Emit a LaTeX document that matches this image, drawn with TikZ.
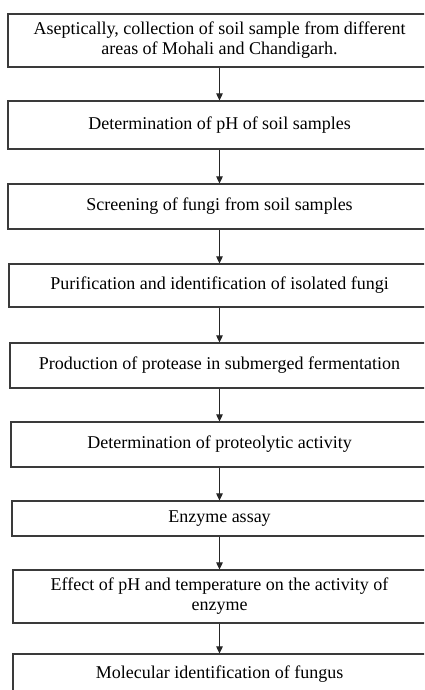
\documentclass[tikz,border=0pt]{standalone}
\usepackage{fontspec}
\setmainfont{Liberation Serif}
\usetikzlibrary{arrows.meta, positioning}
\definecolor{bordeGris}{HTML}{3a3a3a}

\begin{document}
\begin{tikzpicture}[x=1pt, y=-1pt,
  % Estilos
  paso/.style={
    rectangle, draw=bordeGris, line width=1.1pt,
    minimum width=#1, inner sep=2pt,
    align=center, font=\fontsize{18}{20}\selectfont
  },
  paso/.default=423pt,
  flecha/.style={
    -{Triangle[width=6.5pt, length=7pt]}, line width=0.9pt, draw=black!85
  }
]

% --- Marco ---
\fill[white] (0,0) rectangle (424,690);
\clip (0,0) rectangle (424,690);

% --- Pasos ---
\node[paso, minimum height=53pt] (coleccion) at (219.5, 40.5)
  {Aseptically, collection of soil sample from different\\areas of Mohali and Chandigarh.};
\node[paso, minimum height=48pt] (ph)        at (219.5, 125)   {Determination of pH of soil samples};
\node[paso, minimum height=45pt] (cribado)   at (219.5, 206.5) {Screening of fungi from soil samples};
\node[paso=421pt, minimum height=43pt] (purifica)  at (219.5, 285.5) {Purification and identification of isolated fungi};
\node[paso=419pt, minimum height=45pt] (produce)   at (219.5, 365.5) {Production of protease in submerged fermentation};
\node[paso=417pt, minimum height=45pt] (actividad) at (219.5, 444.5) {Determination of proteolytic activity};
\node[paso=415pt, minimum height=35pt] (ensayo)    at (219.5, 518.5) {Enzyme assay};
\node[paso=413pt, minimum height=53pt] (efecto)    at (219.5, 596.5)
  {Effect of pH and temperature on the activity of\\enzyme};
\node[paso=413pt, minimum height=40pt] (molecular) at (219.5, 674)   {Molecular identification of fungus};

% --- Flechas ---
\draw[flecha] (coleccion) -- (ph);
\draw[flecha] (ph)        -- (cribado);
\draw[flecha] (cribado)   -- (purifica);
\draw[flecha] (purifica)  -- (produce);
\draw[flecha] (produce)   -- (actividad);
\draw[flecha] (actividad) -- (ensayo);
\draw[flecha] (ensayo)    -- (efecto);
\draw[flecha] (efecto)    -- (molecular);

\end{tikzpicture}
\end{document}
